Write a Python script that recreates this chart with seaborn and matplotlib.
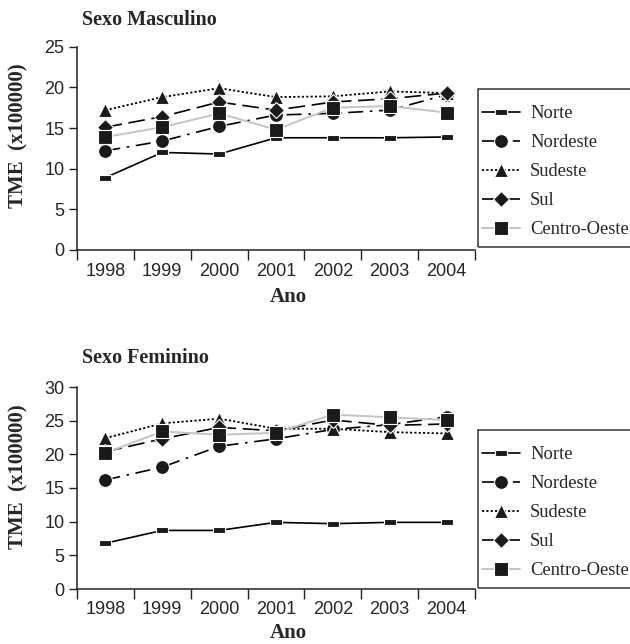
"""
plot.py -- TME por regiao, 1998-2004, sexo masculino e feminino.
"""

import matplotlib
matplotlib.use("Agg")
import matplotlib.pyplot as plt
from matplotlib.patches import Rectangle
from matplotlib.ticker import FixedLocator
import numpy as np
import pandas as pd
import seaborn as sns

# -- Data ----------------------------------------------------------------------

ANOS = ["1998", "1999", "2000", "2001", "2002", "2003", "2004"]
REGIOES = ["Norte", "Nordeste", "Sudeste", "Sul", "Centro-Oeste"]

masc_norte    = [8.9, 12.0, 11.8, 13.8, 13.8, 13.8, 13.9]
masc_nordeste = [12.2, 13.4, 15.2, 16.6, 16.8, 17.2, 19.1]
masc_sudeste  = [17.2, 18.8, 19.9, 18.8, 18.9, 19.5, 19.3]
masc_sul      = [15.1, 16.4, 18.2, 17.2, 18.2, 18.6, 19.3]
masc_centro   = [13.9, 15.1, 16.8, 14.8, 17.5, 17.7, 16.9]

fem_norte    = [6.8, 8.7, 8.7, 9.9, 9.7, 9.9, 9.9]
fem_nordeste = [16.2, 18.1, 21.2, 22.3, 23.7, 24.4, 25.6]
fem_sudeste  = [22.4, 24.6, 25.3, 23.8, 23.8, 23.3, 23.1]
fem_sul      = [20.4, 22.3, 24.0, 23.5, 25.1, 24.3, 24.5]
fem_centro   = [20.2, 23.4, 22.9, 23.2, 25.9, 25.5, 25.1]

MASC = [masc_norte, masc_nordeste, masc_sudeste, masc_sul, masc_centro]
FEM  = [fem_norte, fem_nordeste, fem_sudeste, fem_sul, fem_centro]

# -- Styles --------------------------------------------------------------------

RECT = [(-1, -0.45), (1, -0.45), (1, 0.45), (-1, 0.45), (-1, -0.45)]

STYLE = {
    "Norte":        dict(color="black", ls="-", marker=RECT, ms=9, lw=1.2),
    "Nordeste":     dict(color="black", ls=(0, (9, 4, 1.5, 4)), marker="o", ms=10, lw=1.2),
    "Sudeste":      dict(color="black", ls=(0, (1.2, 1.2)), marker="^", ms=10, lw=1.3),
    "Sul":          dict(color="black", ls=(0, (10, 4)), marker="D", ms=8.5, lw=1.2),
    "Centro-Oeste": dict(color="#c4c4c4", ls="-", marker="s", ms=9.5, lw=1.4),
}

SERIF = "Liberation Serif"
SANS = "Liberation Sans"
W, H = 630, 644

sns.set_theme(style="white")
plt.rcParams["font.family"] = [SANS, "DejaVu Sans"]


def long_frame(series: list[list[float]]) -> pd.DataFrame:
    rows = []
    for regiao, vals in zip(REGIOES, series):
        for i, v in enumerate(vals):
            rows.append({"regiao": regiao, "idx": i, "tme": v})
    return pd.DataFrame(rows)


def draw_panel(ax, series, ymax, titulo, title_px, ylabel_y, xlabel_y, legend_top_px):
    fig = ax.get_figure()
    df = long_frame(series)
    for regiao in REGIOES:
        st = STYLE[regiao]
        sub = df[df["regiao"] == regiao]
        sns.lineplot(
            data=sub, x="idx", y="tme", ax=ax, label=regiao,
            color=st["color"], linestyle=st["ls"], linewidth=st["lw"],
            marker=st["marker"], markersize=st["ms"],
            markerfacecolor="#1a1a1a", markeredgecolor="white",
            markeredgewidth=0.8,
        )

    # category axis: tick marks between years, labels centred
    ax.set_xlim(-0.5, 6.5)
    ax.set_ylim(0, ymax)
    ax.set_yticks(np.arange(0, ymax + 1, 5))
    ax.xaxis.set_major_locator(FixedLocator(np.arange(-0.5, 7, 1)))
    ax.set_xticklabels([])
    ax.set_xticks(range(len(ANOS)), ANOS, minor=True)
    ax.tick_params(axis="x", which="major", length=7, width=1, color="#222",
                   direction="out", bottom=True)
    ax.tick_params(axis="x", which="minor", length=0, labelsize=13, pad=9,
                   bottom=True)
    ax.tick_params(axis="y", length=6, width=1, color="#222", direction="out",
                   labelsize=13, left=True, pad=3)

    sns.despine(ax=ax)
    for sp in ("left", "bottom"):
        ax.spines[sp].set_color("#222")
        ax.spines[sp].set_linewidth(1.1)

    ax.set_xlabel("Ano", fontfamily=SERIF, fontweight="bold", fontsize=15)
    ax.xaxis.label.set_va("center")
    ax.xaxis.set_label_coords(0.53, xlabel_y)
    ax.set_ylabel("TME  (x100000)", fontfamily=SERIF, fontweight="bold",
                  fontsize=15)
    ax.yaxis.label.set_va("center")
    ax.yaxis.set_label_coords(-0.148, ylabel_y)

    fig.text(82 / W, 1 - title_px / H, titulo, fontfamily=SERIF,
             fontweight="bold", fontsize=14.5, va="center", ha="left")

    # legend without frame + box running off the right edge
    ax.legend(
        loc="upper left",
        bbox_to_anchor=(482 / W, 1 - (legend_top_px + 16) / H),
        bbox_transform=fig.transFigure,
        prop={"family": SERIF, "size": 13.3},
        frameon=False, handlelength=2.05, handletextpad=0.55,
        labelspacing=0.65, borderpad=0, borderaxespad=0,
    )
    fig.add_artist(Rectangle(
        (478 / W, 1 - (legend_top_px + 158) / H), 0.4, 158 / H,
        transform=fig.transFigure, fill=False, edgecolor="#333",
        linewidth=1.1,
    ))


def main() -> None:
    fig = plt.figure(figsize=(W / 100, H / 100), dpi=100)

    ax1 = fig.add_axes([77 / W, 1 - 250 / H, 398 / W, 203.3 / H])
    ax2 = fig.add_axes([77 / W, 1 - 589 / H, 398 / W, 202 / H])

    draw_panel(ax1, MASC, 25, "Sexo Masculino", 20, 0.56, -0.232, 89)
    draw_panel(ax2, FEM, 30, "Sexo Feminino", 358, 0.555, -0.22, 430)

    fig.savefig("out.png", dpi=100)


if __name__ == "__main__":
    main()
